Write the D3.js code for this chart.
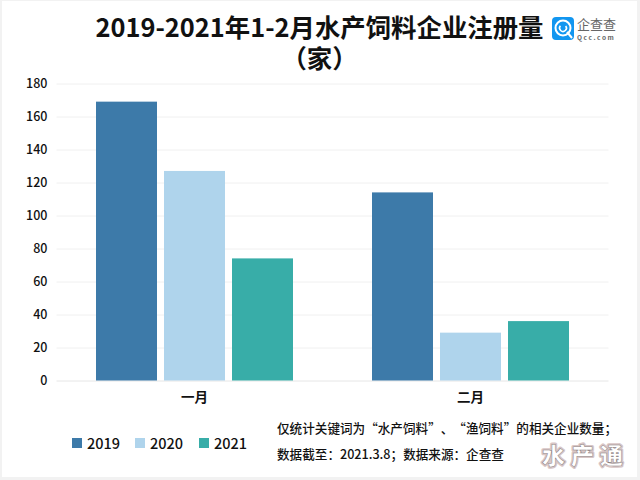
<!DOCTYPE html>
<html lang="zh-CN"><head><meta charset="utf-8"><script src="https://cdnjs.cloudflare.com/ajax/libs/d3/7.8.5/d3.min.js"></script>
<style>html,body{margin:0;padding:0;background:#fff}svg{display:block}text{font-family:"Noto Sans CJK SC","Noto Sans",sans-serif;fill:#111;text-spacing-trim:space-all}</style></head>
<body><svg id="c" width="640" height="480"></svg>
<script>
const months=["一月","二月"];
const years=["2019","2020","2021"];
const v2019=[169,114];
const v2020=[127,29];
const v2021=[74,36];
const colors=["#3d7aa9","#afd4ec","#38ada8"];
const yTicks=[0,20,40,60,80,100,120,140,160,180];
const titleLines=["2019-2021年1-2月水产饲料企业注册量","（家）"];
const noteLines=["仅统计关键词为“水产饲料”、“渔饲料”的相关企业数量；","数据截至：2021.3.8；数据来源：企查查"];
const series=[v2019,v2020,v2021];

const svg=d3.select("#c");
svg.append("rect").attr("width",640).attr("height",480).attr("fill","#f2f2f2");
svg.append("rect").attr("x",2).attr("y",1).attr("width",635).attr("height",476).attr("fill","#fff");

const x=d3.scaleBand().domain(months).range([56.5,608.5]);
const xi=d3.scaleBand().domain(years).range([39.5,236.5]).paddingInner(0.103);
const y=d3.scaleLinear().domain([0,180]).range([380.5,83.5]);

const gy=svg.append("g").attr("transform","translate(56.5,0)")
 .call(d3.axisLeft(y).tickValues(yTicks).tickSize(0).tickPadding(9));
gy.select(".domain").remove();
gy.selectAll("text").attr("font-size",12.5).attr("font-weight",500).style("font-family",'"Noto Sans CJK SC"').attr("fill","#111");
gy.selectAll("line").attr("x1",0).attr("x2",552).attr("stroke",d=>d===0?"#e6e6e6":"#f0f0f0").attr("stroke-width",1);

series.forEach((s,i)=>{
 svg.append("g").selectAll("rect").data(s).join("rect")
  .attr("x",(d,j)=>x(months[j])+xi(years[i]))
  .attr("y",d=>y(d)).attr("width",xi.bandwidth())
  .attr("height",d=>y(0)-y(d)).attr("fill",colors[i]);
});

const gx=svg.append("g").attr("transform","translate(0,380)")
 .call(d3.axisBottom(x).tickSize(0).tickPadding(12));
gx.select(".domain").remove();
gx.selectAll("text").attr("font-size",13.5).attr("font-weight",700).attr("fill","#111");

svg.selectAll("text.t").data(titleLines).join("text").attr("class","t")
 .attr("x",319.5).attr("y",(d,i)=>37+i*31).attr("text-anchor","middle")
 .attr("font-size",25.4).attr("font-weight",700).text(d=>d);

const lx=[72,135,199];
years.forEach((yr,i)=>{
 svg.append("rect").attr("x",lx[i]).attr("y",438).attr("width",10).attr("height",10).attr("fill",colors[i]);
 svg.append("text").attr("x",lx[i]+15).attr("y",449).attr("font-size",14.5).attr("font-weight",500).text(yr);
});

svg.selectAll("text.n").data(noteLines).join("text").attr("class","n")
 .attr("x",277).attr("y",(d,i)=>433+i*26).attr("font-size",12.6).attr("font-weight",500).text(d=>d);

const logo=svg.append("g").attr("transform","translate(552,17)");
logo.append("rect").attr("width",22).attr("height",23).attr("rx",4).attr("fill","#1296f0");
logo.append("circle").attr("cx",11).attr("cy",11).attr("r",7.5).attr("fill","none").attr("stroke","#fff").attr("stroke-width",2);
logo.append("path").attr("transform","translate(11,11)")
 .attr("d",d3.arc().innerRadius(2.6).outerRadius(4.2).startAngle(0.9).endAngle(5.4)()).attr("fill","#fff");
logo.append("line").attr("x1",15).attr("y1",15).attr("x2",20).attr("y2",21).attr("stroke","#fff").attr("stroke-width",2);
svg.append("text").attr("x",577).attr("y",28.5).attr("font-size",13).attr("font-weight",400).style("fill","#666").text("企查查");
svg.append("text").attr("x",577).attr("y",40).attr("font-size",6.5).attr("font-weight",700).attr("letter-spacing",1.6).style("fill","#666").text("Qcc.com");

const wm=["水产通"];
svg.selectAll("text.w0").data(wm).join("text").attr("class","w0").attr("x",542).attr("y",464).attr("font-size",23).attr("font-weight",900)
 .attr("letter-spacing",6).style("fill","#fff").style("stroke","#d8c6c6").style("stroke-width",3.5).style("stroke-linejoin","round").text(d=>d);
svg.selectAll("text.w1").data(wm).join("text").attr("class","w1").attr("x",542).attr("y",464).attr("font-size",23).attr("font-weight",900)
 .attr("letter-spacing",6).style("fill","#fff").style("stroke","#8a7f7f").style("stroke-width",0.5).text(d=>d);
</script></body></html>
